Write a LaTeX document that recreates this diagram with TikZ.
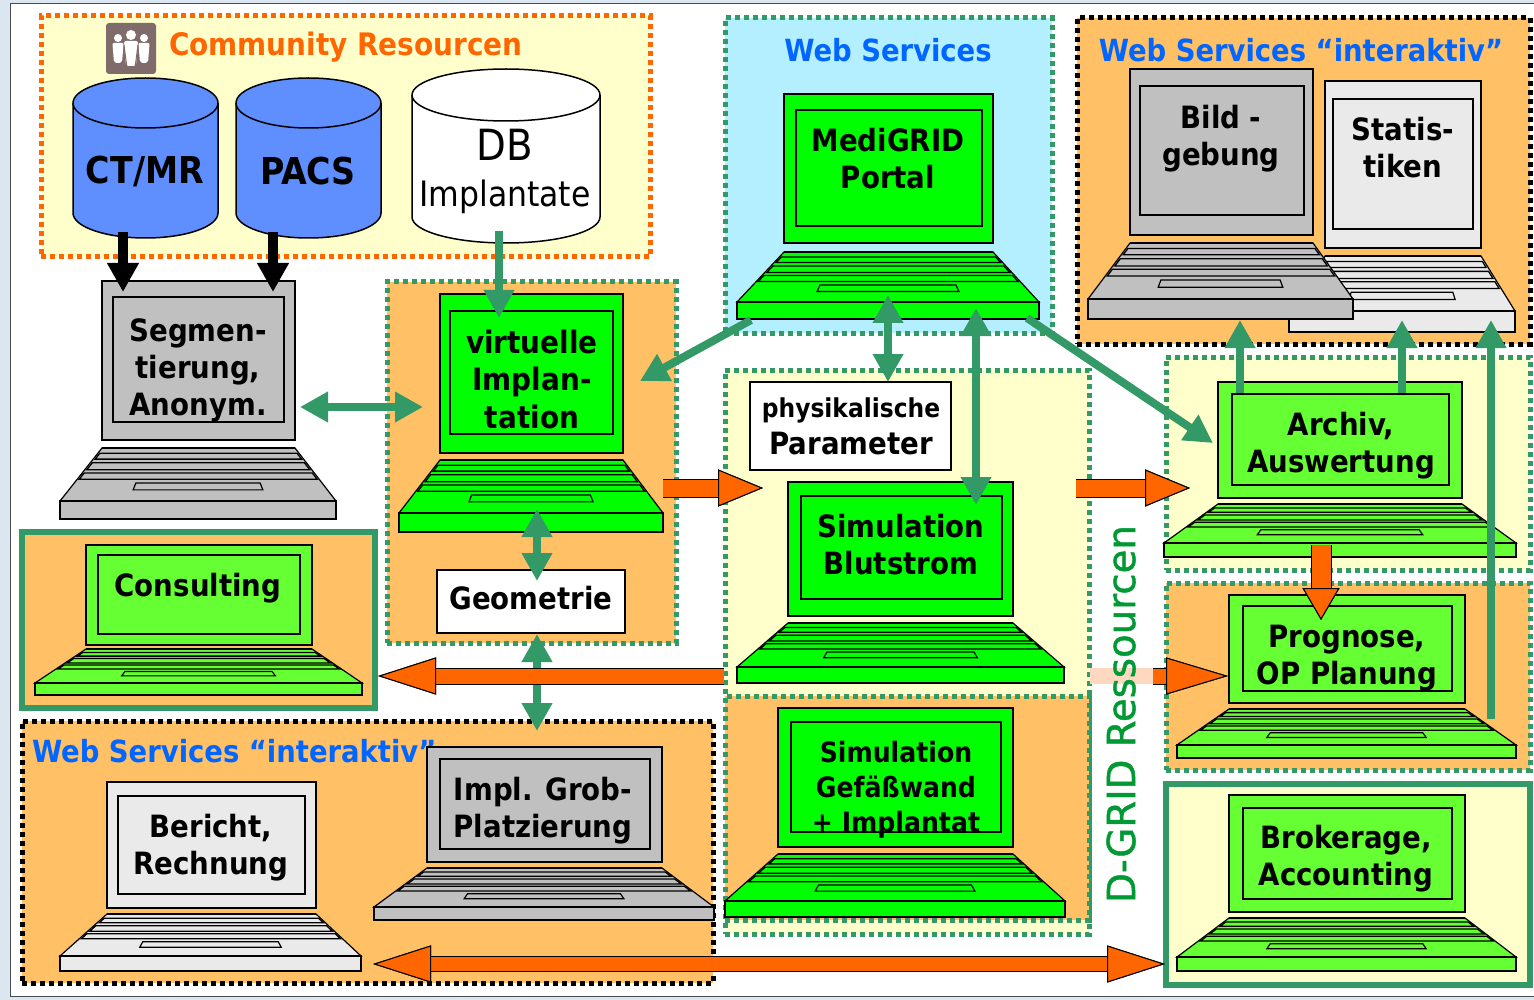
\documentclass[tikz,border=0pt]{standalone}
\usepackage{fontspec}
\setmainfont{DejaVu Sans Condensed}
\newfontfamily\gridfont[FakeBold=1.1]{DejaVu Sans}
\usetikzlibrary{arrows.meta}
\definecolor{greenA}{HTML}{00FF00}
\definecolor{greenB}{HTML}{66FF33}
\definecolor{greyA}{HTML}{C0C0C0}
\definecolor{greyB}{HTML}{EAEAEA}
\definecolor{cylblue}{HTML}{5F8FFF}
\definecolor{boxorange}{HTML}{FFC066}
\definecolor{boxyellow}{HTML}{FFFFCC}
\definecolor{boxblue}{HTML}{B3EFFF}
\definecolor{linkgreen}{HTML}{339966}
\definecolor{linkorange}{HTML}{FF6600}
\definecolor{titleblue}{HTML}{0066FF}
\definecolor{gridgreen}{HTML}{009933}
\definecolor{backblue}{HTML}{DCE6F0}
\definecolor{iconbrown}{HTML}{806B6B}
\newcommand{\rectnode}[6]{%
\pgfmathsetmacro{\rectw}{#5-#3}%
\pgfmathsetmacro{\recth}{#6-#4}%
\node (#1) [#2,minimum width=\rectw pt,minimum height=\recth pt] at ({(#3+#5)/2},{(#4+#6)/2}) {};}
\newcommand{\dbcylinder}[7]{%
\rectnode{#1}{plainbox}{#3}{#4}{#5}{#6}
\pgfmathsetmacro{\cylrx}{(#5-#3)/2}%
\draw [cylline,fill=#2] (#3,#4+#7) arc [start angle=180,end angle=0,x radius=\cylrx pt,y radius=#7pt]
    -- (#5,#6-#7) arc [start angle=0,end angle=-180,x radius=\cylrx pt,y radius=#7pt] -- cycle;
\draw [cylline] (#3,#4+#7) arc [start angle=180,end angle=360,x radius=\cylrx pt,y radius=#7pt];
}
\newcommand{\keyboard}[8]{%
\draw [keyline,fill=#1] (#2,#4) -- (#3,#4) -- (#6,#7) -- (#5,#7) -- cycle;
\draw [keyline,fill=#1] (#5,#7) rectangle (#6,#8);
\draw [line width=2pt] (#2,#4) -- (#3,#4);
\foreach \fa/\fb in {.1/.21,.28/.41,.47/.59} {
\draw [keyline,fill=#1,line width=1.3pt] ({#2+(#5-#2)*\fa+2},{#4+(#7-#4)*\fa}) -- ({#3+(#6-#3)*\fa-2},{#4+(#7-#4)*\fa})
    -- ({#3+(#6-#3)*\fb-2},{#4+(#7-#4)*\fb}) -- ({#2+(#5-#2)*\fb+2},{#4+(#7-#4)*\fb}) -- cycle;
}
\draw [keyline,fill=#1] ({(#5+#6)/2-.225*(#6-#5)},{#4+(#7-#4)*.66}) -- ({(#5+#6)/2+.225*(#6-#5)},{#4+(#7-#4)*.66})
    -- ({(#5+#6)/2+.235*(#6-#5)},{#4+(#7-#4)*.79}) -- ({(#5+#6)/2-.235*(#6-#5)},{#4+(#7-#4)*.79}) -- cycle;
}
\begin{document}
\begin{tikzpicture}[x=1pt,y=-1pt,
every node/.style={inner sep=0pt,outer sep=0pt},
plainbox/.style={draw=none,rectangle},
dotgreen/.style={draw=linkgreen,line width=5pt,dash pattern=on 5pt off 4pt,rectangle},
dotorange/.style={draw=linkorange,line width=5pt,dash pattern=on 5pt off 4pt,rectangle},
dotblack/.style={draw=black,line width=5pt,dash pattern=on 5pt off 4pt,rectangle},
solidgreen/.style={draw=linkgreen,line width=6pt,rectangle},
screenbox/.style={draw=black,line width=1.2pt,rectangle},
whitebox/.style={draw=black,line width=2.5pt,fill=white,rectangle},
keyline/.style={draw=black,line width=1.2pt},
cylline/.style={draw=black,line width=1.5pt},
screentext/.style={align=center,font=\fontsize{30.7}{37}\selectfont\bfseries},
titletext/.style={text=titleblue,font=\fontsize{30.5}{36}\selectfont\bfseries},
cyltext/.style={align=center,font=\fontsize{37}{44}\selectfont\bfseries},
greenlink/.style={draw=linkgreen,line width=8pt,-{Triangle[length=28pt,width=29pt]}},
greenboth/.style={draw=linkgreen,line width=8pt,{Triangle[length=28pt,width=29pt]}-{Triangle[length=28pt,width=29pt]}},
blacklink/.style={draw=black,line width=10pt,-{Triangle[length=29pt,width=30pt]}},
orangelink/.style 2 args={draw=linkorange,line width=#2,-{Triangle[length=#1,width=37pt,fill=linkorange,color=black,line width=1pt]},
    preaction={draw=black,line width=#2+2pt,-{Triangle[length=#1,width=37pt,fill=linkorange,color=black,line width=1pt]}}},
orangeboth/.style={draw=linkorange,line width=14pt,{Triangle[length=#1,width=37pt,fill=linkorange,color=black,line width=1pt]}-{Triangle[length=#1,width=37pt,fill=linkorange,color=black,line width=1pt]},
    preaction={draw=black,line width=16pt,{Triangle[length=#1,width=37pt,fill=linkorange,color=black,line width=1pt]}-{Triangle[length=#1,width=37pt,fill=linkorange,color=black,line width=1pt]}}}
]
\useasboundingbox (0,0) rectangle (1534,1000);
\rectnode{backdrop}{plainbox,fill=backblue}{0}{0}{1534}{1000}
\rectnode{page}{draw=black!70,fill=white,line width=1pt,rectangle}{10}{4}{1540}{996}

\rectnode{community}{dotorange,fill=boxyellow}{41}{16}{650}{257}
\rectnode{implbox}{dotgreen,fill=boxorange}{387}{282}{676}{643}
\rectnode{webbox}{dotgreen,fill=boxblue}{725}{18}{1052}{333}
\rectnode{webtop}{dotblack,fill=boxorange}{1077}{18}{1530}{344}
\rectnode{simbox}{dotgreen,fill=boxyellow}{725}{370}{1089}{934}
\rectnode{wallbox}{dotgreen,fill=boxorange}{725}{696}{1089}{920}
\rectnode{archivbox}{dotgreen,fill=boxyellow}{1166}{357}{1530}{570}
\rectnode{prognosebox}{dotgreen,fill=boxorange}{1166}{583}{1530}{770}
\rectnode{brokerbox}{solidgreen,fill=boxyellow}{1166}{784}{1530}{985}
\rectnode{consultbox}{solidgreen,fill=boxorange}{22}{532}{375}{708}
\rectnode{webbottom}{dotblack,fill=boxorange}{22}{721}{713}{983}

\rectnode{commicon}{rectangle,rounded corners=3pt,fill=iconbrown}{106}{23}{156}{74}
\foreach \px/\py/\ps in {118/38/.8,144/38/.8,131/35/1} {
\fill [white] (\px,\py) circle (5*\ps);
\fill [white,rounded corners=2pt] ({\px-7*\ps},{\py+6*\ps}) -- ({\px+7*\ps},{\py+6*\ps}) -- ({\px+5*\ps},{\py+31*\ps}) -- ({\px-5*\ps},{\py+31*\ps}) -- cycle;
}
\draw [iconbrown,line width=1pt] (124,45) -- (127,68) (138,45) -- (135,68);
\node (communitytitle) [anchor=west,text=linkorange,font=\fontsize{31}{36}\selectfont\bfseries] at (169,47) {Community Resourcen};

\dbcylinder{ctmr}{cylblue}{73}{78}{218}{238}{25}
\dbcylinder{pacs}{cylblue}{236}{78}{381}{238}{25}
\dbcylinder{dbimpl}{white}{412}{69}{600}{243}{26}
\node (ctmrtext) [cyltext] at (145,171) {CT/MR};
\node (pacstext) [cyltext] at (308,171) {PACS};
\node (dbtext) [align=center,font=\fontsize{43}{46}\selectfont] at (505,171) {DB\\{\fontsize{35}{46}\selectfont Implantate}};

\rectnode{segscreen}{screenbox,fill=greyA}{102}{281}{295}{440}
\rectnode{seginner}{screenbox,fill=greyA}{113}{297}{284}{422}
\keyboard{greyA}{102}{295}{448}{60}{336}{501}{519}
\node (segtext) [screentext] at (198,370) {Segmen-\\tierung,\\Anonym.};

\rectnode{virtscreen}{screenbox,fill=greenA}{440}{294}{623}{453}
\rectnode{virtinner}{screenbox,fill=greenA}{450}{311}{613}{434}
\keyboard{greenA}{440}{623}{460}{399}{663}{513}{532}
\node (virttext) [screentext,font=\fontsize{31}{37.5}\selectfont\bfseries] at (532,379) {virtuelle\\Implan-\\tation};

\rectnode{geombox}{whitebox}{437}{570}{625}{633}
\node (geomtext) [screentext] at (531,598) {Geometrie};

\rectnode{portalscreen}{screenbox,fill=greenA}{784}{94}{993}{243}
\rectnode{portalinner}{screenbox,fill=greenA}{796}{110}{982}{226}
\keyboard{greenA}{784}{993}{252}{737}{1039}{302}{319}
\node (webtitle) [titletext] at (888,50) {Web Services};
\node (portaltext) [screentext] at (888,159) {MediGRID\\Portal};

\rectnode{statscreen}{screenbox,fill=greyB}{1325}{81}{1481}{248}
\rectnode{statinner}{screenbox,fill=greyB}{1333}{99}{1473}{229}
\keyboard{greyB}{1325}{1481}{256}{1289}{1515}{311}{332}
\node (stattext) [screentext] at (1403,148) {Statis-\\tiken};
\rectnode{bildscreen}{screenbox,fill=greyA}{1130}{69}{1313}{235}
\rectnode{bildinner}{screenbox,fill=greyA}{1140}{86}{1304}{215}
\keyboard{greyA}{1130}{1313}{243}{1088}{1353}{299}{319}
\node (bildtext) [screentext] at (1221,139) {Bild -\\gebung};
\node (webtoptitle) [titletext] at (1301,50) {Web Services “interaktiv”};

\rectnode{paramsbox}{whitebox}{750}{382}{951}{470}
\node (paramstext) [screentext] at (851,426) {{\fontsize{26}{34}\selectfont physikalische}\\Parameter};

\rectnode{flowscreen}{screenbox,fill=greenA}{788}{482}{1013}{616}
\rectnode{flowinner}{screenbox,fill=greenA}{801}{496}{1002}{599}
\keyboard{greenA}{788}{1013}{623}{737}{1064}{667}{683}
\node (flowtext) [screentext] at (901,545) {Simulation\\Blutstrom};

\rectnode{wallscreen}{screenbox,fill=greenA}{778}{708}{1013}{847}
\rectnode{wallinner}{screenbox,fill=greenA}{791}{722}{1001}{832}
\keyboard{greenA}{778}{1013}{854}{725}{1065}{901}{917}
\node (walltext) [screentext,font=\fontsize{28}{35}\selectfont\bfseries] at (896,789.5) {Simulation\\Gefäßwand\\+ Implantat};

\rectnode{archivscreen}{screenbox,fill=greenB}{1218}{382}{1462}{498}
\rectnode{archivinner}{screenbox,fill=greenB}{1232}{394}{1449}{485}
\keyboard{greenB}{1218}{1462}{504}{1164}{1516}{543}{557}
\node (archivtext) [screentext] at (1341,446) {Archiv,\\Auswertung};

\rectnode{prognosescreen}{screenbox,fill=greenB}{1229}{595}{1465}{703}
\rectnode{prognoseinner}{screenbox,fill=greenB}{1243}{606}{1452}{691}
\keyboard{greenB}{1229}{1465}{709}{1177}{1516}{745}{758}
\node (prognosetext) [screentext] at (1347,658) {Prognose,\\OP Planung};

\rectnode{brokerscreen}{screenbox,fill=greenB}{1229}{795}{1465}{912}
\rectnode{brokerinner}{screenbox,fill=greenB}{1243}{808}{1452}{899}
\keyboard{greenB}{1229}{1465}{918}{1177}{1516}{957}{971}
\node (brokertext) [screentext] at (1346,859) {Brokerage,\\Accounting};

\rectnode{consultscreen}{screenbox,fill=greenB}{86}{545}{312}{645}
\rectnode{consultinner}{screenbox,fill=greenB}{98}{555}{300}{634}
\keyboard{greenB}{86}{312}{649}{35}{362}{683}{695}
\node (consulttext) [screentext] at (198,588) {Consulting};

\node (webbottomtitle) [titletext,anchor=west] at (32,751) {Web Services “interaktiv”};
\rectnode{grobscreen}{screenbox,fill=greyA}{427}{747}{662}{862}
\rectnode{grobinner}{screenbox,fill=greyA}{440}{759}{650}{849}
\keyboard{greyA}{427}{662}{868}{374}{714}{907}{920}
\node (grobtext) [screentext] at (543,811) {Impl. Grob-\\Platzierung};

\rectnode{berichtscreen}{screenbox,fill=greyB}{107}{782}{316}{908}
\rectnode{berichtinner}{screenbox,fill=greyB}{118}{796}{305}{894}
\keyboard{greyB}{107}{316}{914}{60}{361}{956}{971}
\node (berichttext) [screentext] at (211,848) {Bericht,\\Rechnung};

\coordinate (paleleft) at (1090,676);
\coordinate (palemid) at (1153,676);
\draw [draw=linkorange!25!white,line width=16pt] (paleleft) -- (palemid);
\node (gridtext) [rotate=90,text=gridgreen,font=\fontsize{38.7}{40}\selectfont\gridfont] at (1121,714) {D-GRID Ressourcen};

\draw [blacklink] ([xshift=-22.5pt,yshift=6pt]ctmr.south) -- ([xshift=-75.5pt,yshift=-11pt]segscreen.north);
\draw [blacklink] ([xshift=-35.5pt,yshift=6pt]pacs.south) -- ([xshift=74.5pt,yshift=-11pt]segscreen.north);
\draw [greenlink] ([xshift=-7pt,yshift=12pt]dbimpl.south) -- ([xshift=-32.5pt,yshift=-7pt]virtinner.north);
\draw [greenboth] ([xshift=5pt,yshift=-46.5pt]segscreen.east) -- ([xshift=-17pt,yshift=-33.5pt]virtscreen.west);
\draw [greenlink] ([xshift=-137.5pt,yshift=-77pt]portalscreen.south) -- ([xshift=17pt,yshift=-7.5pt]virtscreen.east);
\draw [greenboth] ([xshift=-.5pt,yshift=-52pt]portalscreen.south) -- ([xshift=37.5pt]paramsbox.north);
\draw [greenboth] ([xshift=87.5pt,yshift=-65pt]portalscreen.south) -- ([xshift=75.5pt,yshift=-23pt]flowscreen.north);
\draw [greenlink] ([xshift=138.5pt,yshift=-75pt]portalscreen.south) -- ([xshift=-5pt,yshift=-3pt]archivscreen.west);
\draw [greenlink] ([xshift=-100.5pt,yshift=1pt]archivinner.north) -- ([xshift=18.5pt,yshift=-85pt]bildscreen.south);
\draw [greenlink] ([xshift=61.5pt,yshift=1pt]archivinner.north) -- ([xshift=-1pt,yshift=-72pt]statscreen.south);
\draw [greenlink] ([xshift=144pt,yshift=-16pt]prognosescreen.south) -- ([xshift=88pt,yshift=-72pt]statscreen.south);
\draw [greenboth] ([xshift=5.5pt,yshift=-56pt]virtscreen.south) -- ([xshift=6pt,yshift=-11pt]geombox.north);
\draw [greenboth] ([xshift=6pt,yshift=-1pt]geombox.south) -- ([xshift=-7.5pt,yshift=16pt]grobscreen.north);

\draw [orangelink={45pt}{17pt}] ([xshift=-125pt,yshift=61pt]flowscreen.west) -- ([xshift=-25pt,yshift=61pt]flowscreen.west);
\draw [orangelink={45pt}{17pt}] ([xshift=-142pt,yshift=-48pt]archivscreen.west) -- ([xshift=-28pt,yshift=-48pt]archivscreen.west);
\draw [orangelink={58pt}{15pt}] ([xshift=-176.5pt,yshift=-60pt]flowscreen.south) -- ([xshift=3pt,yshift=-56pt]consultbox.east);
\draw [orangelink={62pt}{15pt}] (palemid) -- ([xshift=-1pt,yshift=-27pt]prognosescreen.west);
\draw [orangelink={32pt}{19pt}] ([xshift=-19pt,yshift=-47pt]archivscreen.south) -- ([xshift=-26pt,yshift=-25pt]prognosescreen.north);
\draw [orangeboth=58pt] ([xshift=161.5pt,yshift=-56pt]berichtscreen.south) -- ([xshift=-1pt,yshift=-79.5pt]brokerbox.west);
\end{tikzpicture}
\end{document}
